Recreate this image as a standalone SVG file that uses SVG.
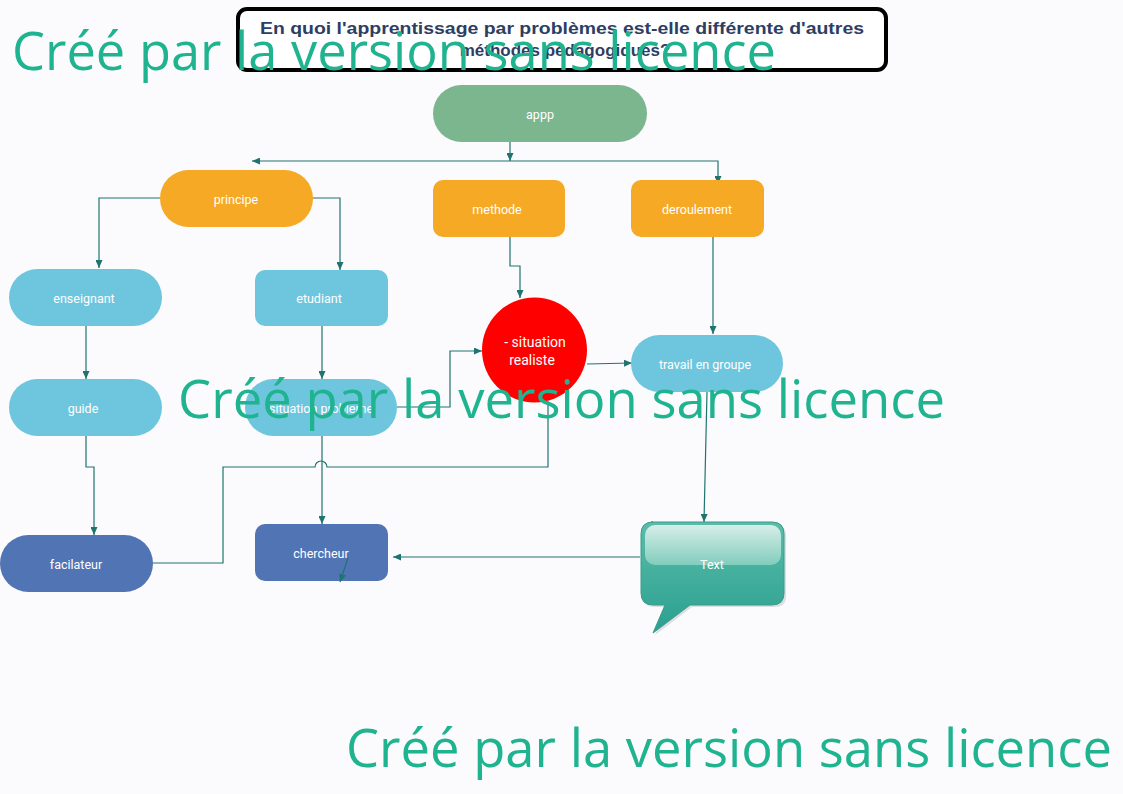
<svg xmlns="http://www.w3.org/2000/svg" width="1123" height="794" viewBox="0 0 1123 794">
<style>
.lbl{font-family:Roboto,"Liberation Sans",Arial,sans-serif;font-size:12.5px;fill:#ffffff;text-anchor:middle}
.con{fill:none;stroke:#1f7470;stroke-width:1.2}
.wm{font-family:"Open Sans","Noto Sans",sans-serif;font-size:53px;fill:#20b38f}
.title{font-family:"Liberation Sans",Arial,sans-serif;font-size:17px;font-weight:bold;fill:#2d3e63;text-anchor:middle}
</style>
<defs>
<marker id="arr" markerWidth="8" markerHeight="7" refX="8" refY="3.5" orient="auto" markerUnits="userSpaceOnUse">
<path d="M0,0 L8,3.5 L0,7 z" fill="#1f7470"/>
</marker>
<linearGradient id="bub" x1="0" y1="0" x2="0" y2="1">
<stop offset="0" stop-color="#5bbcaa"/>
<stop offset="1" stop-color="#2aa08f"/>
</linearGradient>
<linearGradient id="gloss" x1="0" y1="0" x2="0" y2="1">
<stop offset="0" stop-color="#d6eee8"/>
<stop offset="1" stop-color="#82cdbd"/>
</linearGradient>
</defs>
<rect width="1123" height="794" fill="#fbfbfd"/>

<g id="title">
<rect x="238" y="9" width="648" height="61" rx="9" fill="#ffffff" stroke="#000000" stroke-width="4"/>
<text class="title" x="562" y="34" textLength="604" lengthAdjust="spacingAndGlyphs">En quoi l'apprentissage par problèmes est-elle différente d'autres</text>
<text class="title" x="565" y="56">méthodes pédagogiques?</text>
</g>

<g id="connectors">
<path class="con" d="M510 142 V161" marker-end="url(#arr)"/>
<path class="con" d="M510 161 H252" marker-end="url(#arr)"/>
<path class="con" d="M510 161 H718 V184" marker-end="url(#arr)"/>
<path class="con" d="M160 198 H99 V268" marker-end="url(#arr)"/>
<path class="con" d="M312 198 H340 V270" marker-end="url(#arr)"/>
<path class="con" d="M510 237 V266 H520 V298" marker-end="url(#arr)"/>
<path class="con" d="M713 237 V334" marker-end="url(#arr)"/>
<path class="con" d="M86 326 V379" marker-end="url(#arr)"/>
<path class="con" d="M322 326 V379" marker-end="url(#arr)"/>
<path class="con" d="M397 407 H450 V351 H482" marker-end="url(#arr)"/>
<path class="con" d="M587 364 L632 363" marker-end="url(#arr)"/>
<path class="con" d="M548 401 V467 H327 A6 6 0 0 0 315 467 H223 V563 H153"/>
<path class="con" d="M86 436 V467 H94 V535" marker-end="url(#arr)"/>
<path class="con" d="M322 436 V524" marker-end="url(#arr)"/>
<path class="con" d="M707 392 L704 522" marker-end="url(#arr)"/>
<path class="con" d="M640 557 H393" marker-end="url(#arr)"/>
</g>

<g id="appp">
<rect x="433" y="85" width="214" height="57" rx="28.5" fill="#7bb68f"/>
<text class="lbl" x="540" y="119">appp</text>
</g>
<g id="principe">
<rect x="160" y="170" width="153" height="57" rx="28.5" fill="#f5a924"/>
<text class="lbl" x="236" y="204">principe</text>
</g>
<g id="methode">
<rect x="433" y="180" width="132" height="57" rx="10" fill="#f5a924"/>
<text class="lbl" x="497" y="214">methode</text>
</g>
<g id="deroulement">
<rect x="631" y="180" width="133" height="57" rx="10" fill="#f5a924"/>
<text class="lbl" x="697" y="214">deroulement</text>
</g>
<g id="enseignant">
<rect x="9" y="269" width="153" height="57" rx="28.5" fill="#6ec6de"/>
<text class="lbl" x="84" y="303">enseignant</text>
</g>
<g id="etudiant">
<rect x="255" y="270" width="133" height="56" rx="10" fill="#6ec6de"/>
<text class="lbl" x="319" y="303">etudiant</text>
</g>
<g id="guide">
<rect x="9" y="379" width="153" height="57" rx="28.5" fill="#6ec6de"/>
<text class="lbl" x="83" y="413">guide</text>
</g>
<g id="situation-probleme">
<rect x="245" y="379" width="152" height="57" rx="28.5" fill="#6ec6de"/>
<text class="lbl" x="321" y="413">situation probleme</text>
</g>
<g id="situation-realiste">
<circle cx="534.5" cy="350" r="52.5" fill="#ff0000"/>
<text class="lbl" x="535" y="347" style="font-size:14px">- situation</text>
<text class="lbl" x="532" y="365" style="font-size:14px">realiste</text>
</g>
<g id="travail-en-groupe">
<rect x="631" y="335" width="152" height="57" rx="28.5" fill="#6ec6de"/>
<text class="lbl" x="705" y="369">travail en groupe</text>
</g>
<g id="facilateur">
<rect x="0" y="535" width="153" height="57" rx="28.5" fill="#5174b4"/>
<text class="lbl" x="76" y="569">facilateur</text>
</g>
<g id="chercheur">
<rect x="255" y="524" width="133" height="57" rx="10" fill="#5174b4"/>
<text class="lbl" x="321" y="558">chercheur</text>
<path class="con" d="M348 558 L340 582" marker-end="url(#arr)"/>
</g>
<g id="text-callout">
<path d="M653 524 H774 Q786 524 786 536 V597 Q786 607 774 607 H692 L655 635 L667 607 H655 Q643 607 643 597 V536 Q643 524 655 524 Z" fill="#c9ccd0" opacity="0.6"/>
<path d="M651 522 H772 Q784 522 784 534 V593 Q784 605 772 605 H690 L653 633 L665 605 H653 Q641 605 641 593 V534 Q641 522 653 522 Z" fill="url(#bub)" stroke="#3b9c8b" stroke-width="1"/>
<rect x="645" y="525" width="136" height="40" rx="10" fill="url(#gloss)"/>
<text class="lbl" x="712" y="569">Text</text>
</g>

<g id="watermarks">
<text class="wm" x="12" y="70" textLength="764" lengthAdjust="spacingAndGlyphs">Créé par la version sans licence</text>
<text class="wm" x="178" y="418" textLength="767" lengthAdjust="spacingAndGlyphs">Créé par la version sans licence</text>
<text class="wm" x="346" y="767" textLength="766" lengthAdjust="spacingAndGlyphs">Créé par la version sans licence</text>
</g>
</svg>
